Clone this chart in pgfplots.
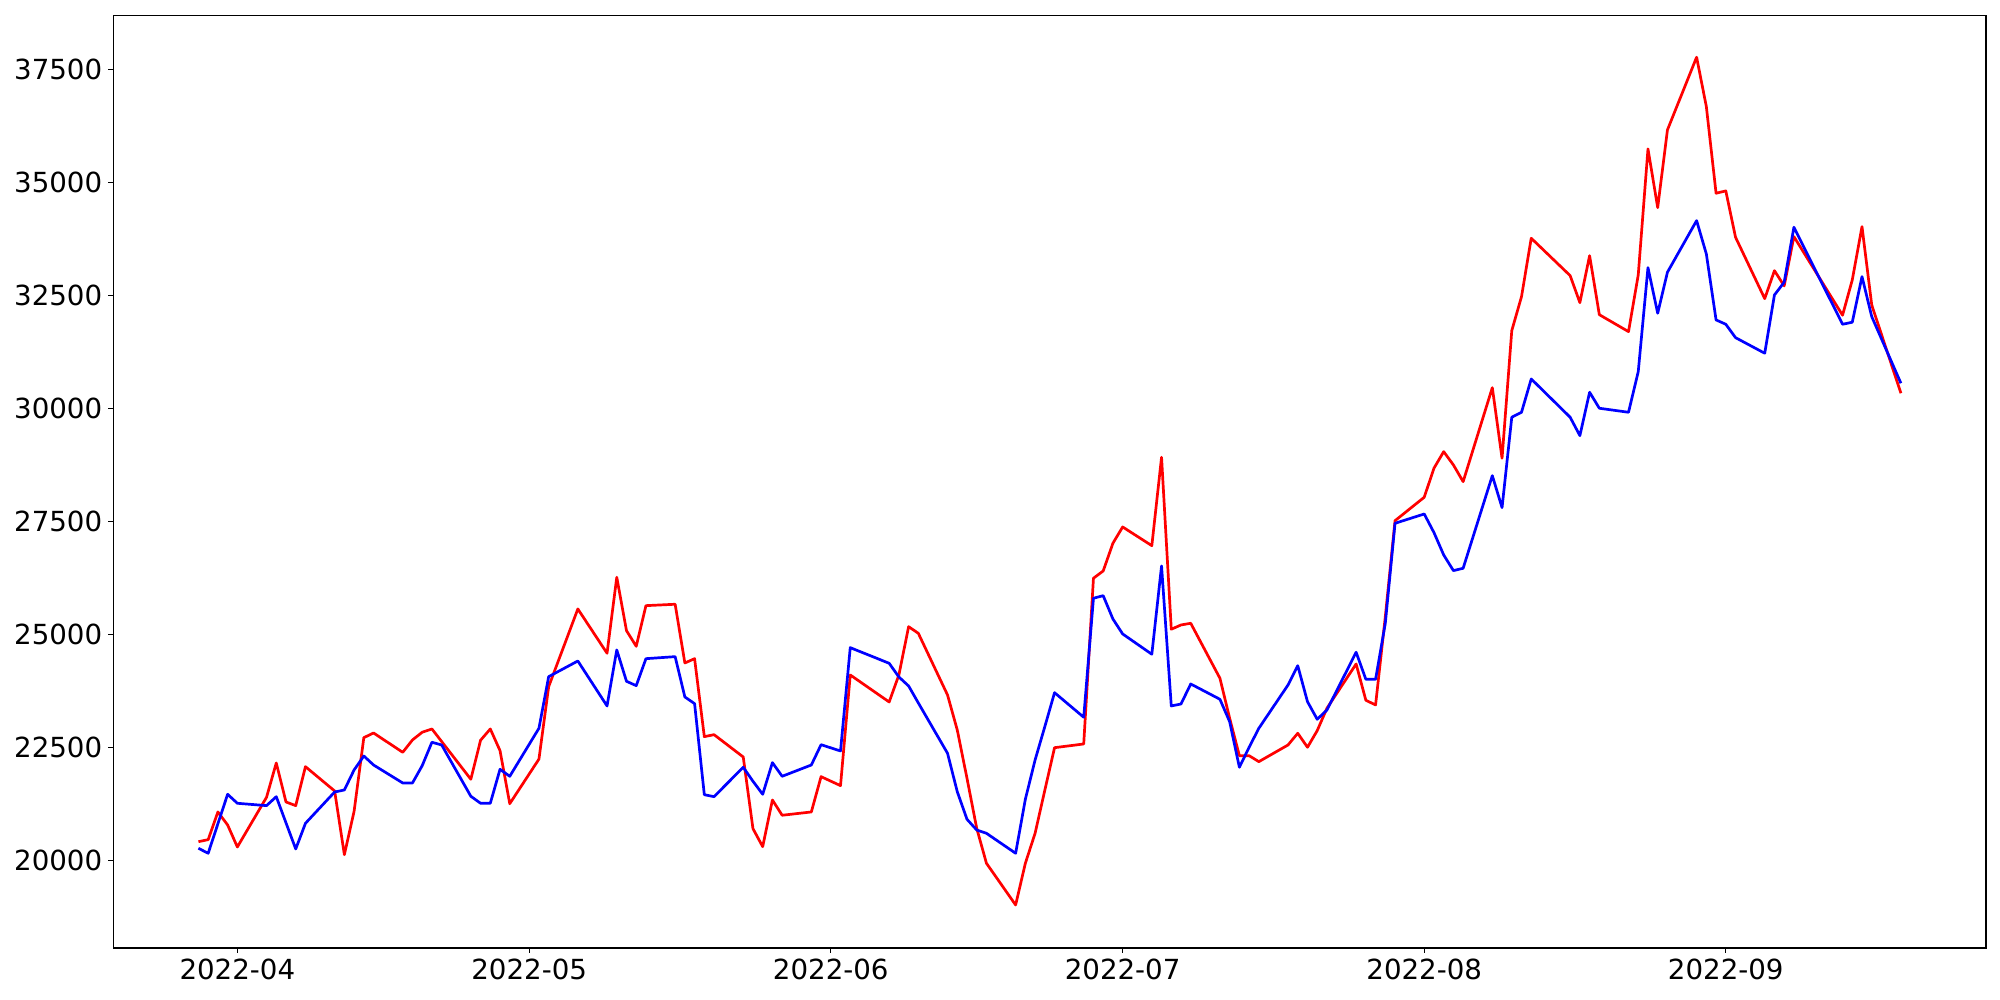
\documentclass[border=0pt]{standalone}
\usepackage{fontspec}
\setmainfont{DejaVu Sans}
\usepackage{pgfplots}
\usepackage{pgfplotstable}
\pgfplotsset{compat=1.18}
\pgfplotstableread{
d v
-4 20412
-3 20456
-2 21069
-1 20781
0 20294
3 21394
4 22153
5 21290
6 21209
7 22071
10 21533
11 20124
12 21084
13 22713
14 22816
17 22389
18 22662
19 22832
20 22905
21 22627
24 21792
25 22655
26 22905
27 22425
28 21252
31 22238
32 23841
33 24414
35 25560
38 24580
39 26261
40 25080
41 24734
42 25633
45 25664
46 24365
47 24460
48 22735
49 22779
52 22285
53 20700
54 20301
55 21334
56 20996
59 21069
60 21850
62 21651
63 24100
67 23502
68 24100
69 25168
70 25021
73 23657
74 22883
75 21814
76 20708
77 19934
80 19011
81 19934
82 20597
83 21549
84 22491
87 22573
88 26239
89 26400
90 27013
91 27374
94 26960
95 28916
96 25111
97 25206
98 25243
101 24027
102 23142
103 22314
104 22314
105 22182
108 22551
109 22810
110 22500
111 22868
112 23363
115 24343
116 23540
117 23436
118 25390
119 27513
122 28031
123 28673
124 29040
125 28746
126 28376
129 30456
130 28894
131 31717
132 32469
133 33761
137 32934
138 32336
139 33376
140 32070
143 31695
144 32949
145 35737
146 34438
147 36157
150 37766
151 36673
152 34757
153 34808
154 33783
157 32425
158 33044
159 32706
160 33797
165 32058
166 32838
167 34018
168 32285
171 30332
}\redtable
\pgfplotstableread{
d v
-4 20265
-3 20155
-2 20808
-1 21460
0 21261
3 21209
4 21407
5 20828
6 20250
7 20818
10 21511
11 21555
12 21998
13 22307
14 22108
17 21710
18 21710
19 22093
20 22611
21 22551
24 21416
25 21261
26 21261
27 22013
28 21858
31 22920
32 24062
33 24178
35 24409
38 23414
39 24653
40 23960
41 23863
42 24460
45 24505
46 23613
47 23465
48 21451
49 21407
52 22058
53 21748
54 21460
55 22160
56 21858
59 22108
60 22557
62 22418
63 24704
67 24358
68 24055
69 23856
70 23480
73 22367
74 21518
75 20907
76 20670
77 20597
80 20155
81 21350
82 22219
83 22956
84 23708
87 23164
88 25797
89 25854
90 25338
91 25007
94 24558
95 26511
96 23414
97 23458
98 23900
101 23562
102 23066
103 22058
104 22500
105 22920
108 23878
109 24305
110 23509
111 23119
112 23325
115 24602
116 24004
117 24004
118 25243
119 27455
122 27661
123 27250
124 26755
125 26408
126 26460
129 28509
130 27801
131 29801
132 29911
133 30648
137 29801
138 29394
139 30354
140 30000
143 29911
144 30810
145 33111
146 32102
147 33009
150 34151
151 33413
152 31954
153 31858
154 31562
157 31217
158 32506
159 32788
160 34004
165 31858
166 31903
167 32912
168 32027
171 30553
}\bluetable
\begin{document}
\begin{tikzpicture}
\begin{axis}[
  at={(0,0)}, anchor=south west,
  scale only axis,
  width=1353.4pt, height=674.1pt,
  xmin=-12.75, xmax=179.75,
  ymin=18060, ymax=38695,
  scaled y ticks=false, scaled x ticks=false,
  xtick={0,30,61,91,122,153},
  xticklabels={2022-04,2022-05,2022-06,2022-07,2022-08,2022-09},
  ytick={20000,22500,25000,27500,30000,32500,35000,37500},
  yticklabels={20000,22500,25000,27500,30000,32500,35000,37500},
  tick align=outside,
  major tick length=3.5pt,
  tick style={black, line width=0.8pt},
  axis line style={line width=0.8pt},
  xtick pos=bottom, ytick pos=left,
  ticklabel style={font=\fontsize{20}{23}\selectfont},
  xticklabel style={yshift=-1pt},
  yticklabel style={xshift=-1pt},
]
\addplot[red, line width=1.95pt, line join=round] table[x=d, y=v] {\redtable};
\addplot[blue, line width=1.95pt, line join=round] table[x=d, y=v] {\bluetable};
\end{axis}
\path (-81.9pt,-37.6pt) rectangle (1363.5pt,685.1pt);
\end{tikzpicture}
\end{document}
